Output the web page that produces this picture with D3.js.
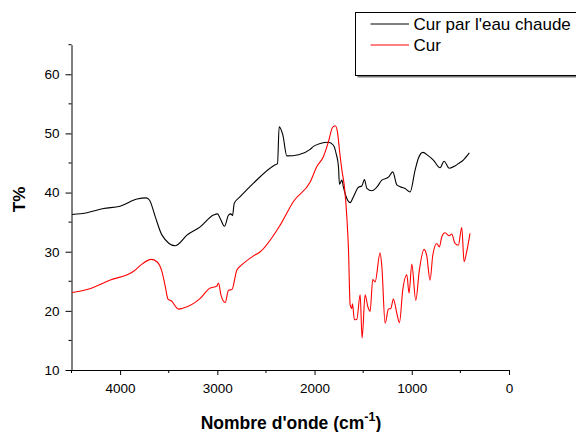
<!DOCTYPE html>
<html>
<head>
<meta charset="utf-8">
<script src="https://cdn.jsdelivr.net/npm/d3@7"></script>
<style>
  html, body { margin: 0; padding: 0; background: #fff; }
  svg { display: block; }
  text { font-family: "Liberation Sans", Arial, sans-serif; fill: #000; }
</style>
</head>
<body>
<script>
// FTIR spectra: transmittance (%) versus wavenumber (cm-1)
const seriesNames = ["Cur par l'eau chaude", "Cur"];
const seriesColors = ["#000000", "#ff0000"];

const waveHotWater = [4494, 4340, 4170, 4000, 3826, 3731, 3697, 3638, 3569, 3433, 3399, 3313, 3176, 3039, 2998, 2970, 2926, 2885, 2860, 2844, 2826, 2765, 2628, 2405, 2381, 2364, 2326, 2285, 2165, 2045, 2011, 1942, 1857, 1806, 1778, 1754, 1744, 1719, 1703, 1668, 1634, 1600, 1549, 1514, 1487, 1462, 1411, 1360, 1308, 1240, 1195, 1154, 1120, 1069, 1017, 966, 932, 887, 829, 778, 709, 668, 614, 555, 521, 470, 408];
const transHotWater = [36.3, 36.6, 37.3, 37.7, 38.9, 39.1, 38.7, 35.9, 32.8, 31.0, 31.3, 32.8, 34.2, 36.2, 36.4, 35.6, 34.3, 36.2, 36.4, 36.1, 38.2, 39.3, 41.6, 44.7, 44.9, 51.1, 49.7, 46.2, 46.4, 47.3, 47.8, 48.3, 48.5, 48.0, 46.6, 44.4, 41.4, 42.1, 40.9, 39.0, 38.3, 39.3, 40.9, 41.1, 42.2, 40.7, 40.3, 40.9, 42.1, 42.6, 43.5, 41.3, 41.0, 40.7, 40.1, 43.8, 45.8, 46.8, 46.2, 45.5, 44.2, 45.3, 44.1, 44.5, 44.9, 45.5, 46.7];

const waveRaw = [4494, 4340, 4101, 3861, 3775, 3682, 3621, 3569, 3535, 3508, 3474, 3399, 3364, 3176, 3080, 3004, 2988, 2963, 2919, 2885, 2850, 2799, 2747, 2628, 2559, 2354, 2217, 2045, 1976, 1908, 1857, 1816, 1788, 1765, 1744, 1719, 1693, 1668, 1651, 1634, 1617, 1610, 1590, 1565, 1531, 1511, 1480, 1452, 1429, 1401, 1377, 1326, 1308, 1274, 1240, 1216, 1189, 1154, 1127, 1093, 1051, 1028, 1000, 959, 922, 874, 846, 812, 784, 743, 716, 692, 658, 614, 589, 555, 521, 486, 462, 435, 401];
const transRaw = [23.1, 23.6, 25.2, 26.7, 27.9, 28.7, 28.3, 26.6, 24.1, 22.0, 21.7, 20.3, 20.4, 22.1, 23.8, 24.2, 24.7, 22.7, 21.4, 23.5, 23.6, 26.9, 27.8, 29.3, 30.0, 34.5, 38.5, 41.8, 44.4, 46.1, 48.6, 51.0, 51.3, 50.3, 47.2, 43.8, 41.0, 35.9, 30.3, 21.0, 20.4, 21.2, 18.5, 18.6, 22.7, 15.4, 22.7, 20.7, 19.9, 25.3, 24.9, 29.8, 27.5, 17.9, 20.3, 20.4, 22.0, 19.6, 18.0, 23.5, 26.1, 23.0, 27.9, 21.8, 26.9, 30.4, 29.3, 25.2, 29.4, 31.4, 30.8, 32.5, 33.2, 32.7, 33.0, 31.4, 31.1, 34.1, 28.3, 30.0, 33.1];

const xMajorTicks = [4000, 3000, 2000, 1000, 0];
const xMinorTicks = [4500, 3500, 2500, 1500, 500];
const yMajorTicks = [10, 20, 30, 40, 50, 60];
const yMinorTicks = [15, 25, 35, 45, 55, 65];

const W = 576, H = 432;
const svg = d3.select("body").append("svg").attr("width", W).attr("height", H);

const x = d3.scaleLinear().domain([4500, 0]).range([71.5, 509]);
const y = d3.scaleLinear().domain([10, 65]).range([370, 44.7]);

// axes
const xAxis = svg.append("g").attr("transform", `translate(0,${y(10)})`);
xAxis.call(d3.axisBottom(x).tickValues(xMajorTicks).tickSize(5).tickSizeOuter(0).tickPadding(8).tickFormat(d3.format("d")));
xAxis.append("g").selectAll("line").data(xMinorTicks).join("line")
  .attr("x1", d => x(d)).attr("x2", d => x(d)).attr("y1", 0).attr("y2", 3).attr("stroke", "#000");

const yAxis = svg.append("g").attr("transform", `translate(${x(4500)},0)`);
yAxis.call(d3.axisLeft(y).tickValues(yMajorTicks).tickSize(6).tickSizeOuter(0).tickPadding(6).tickFormat(d3.format("d")));
yAxis.append("g").selectAll("line").data(yMinorTicks).join("line")
  .attr("y1", d => y(d)).attr("y2", d => y(d)).attr("x1", 0).attr("x2", -3).attr("stroke", "#000");

svg.selectAll(".tick text").style("font-family", "'Liberation Sans', Arial, sans-serif").style("font-size", "13.5px").attr("fill", "#111");
svg.selectAll(".domain, .tick line").attr("stroke", "#000");

// axis titles
const xt = svg.append("text").attr("x", 291).attr("y", 429).attr("text-anchor", "middle")
  .style("font-size", "17.5px").style("font-weight", "bold");
xt.append("tspan").text("Nombre d'onde (cm");
xt.append("tspan").attr("dy", -8).style("font-size", "12.5px").text("-1");
xt.append("tspan").attr("dy", 8).text(")");

svg.append("text").attr("transform", "translate(25,199.5) rotate(-90)").attr("text-anchor", "middle")
  .style("font-size", "17px").style("font-weight", "bold").text("T%");

// spectra
const line = d3.line().x(d => x(d[0])).y(d => y(d[1])).curve(d3.curveMonotoneX);
const series = [
  d3.zip(waveHotWater, transHotWater),
  d3.zip(waveRaw, transRaw)
];
series.forEach((pts, i) => {
  svg.append("path").datum(pts).attr("d", line)
    .attr("fill", "none").attr("stroke", seriesColors[i]).attr("stroke-width", 1.1).attr("stroke-linejoin", "round");
});

// legend
const lg = svg.append("g");
lg.append("rect").attr("x", 357.5).attr("y", 14.5).attr("width", 240).attr("height", 63).attr("fill", "#777");
lg.append("rect").attr("x", 355.5).attr("y", 12.5).attr("width", 240).attr("height", 63)
  .attr("fill", "#fff").attr("stroke", "#000").attr("stroke-width", 1);
seriesNames.forEach((name, i) => {
  const cy = 24 + i * 21;
  lg.append("line").attr("x1", 370.5).attr("x2", 409).attr("y1", cy).attr("y2", cy)
    .attr("stroke", seriesColors[i]).attr("stroke-width", 1);
  lg.append("text").attr("x", 413.5).attr("y", cy + 6).style("font-size", "17px").text(name);
});
</script>
</body>
</html>
